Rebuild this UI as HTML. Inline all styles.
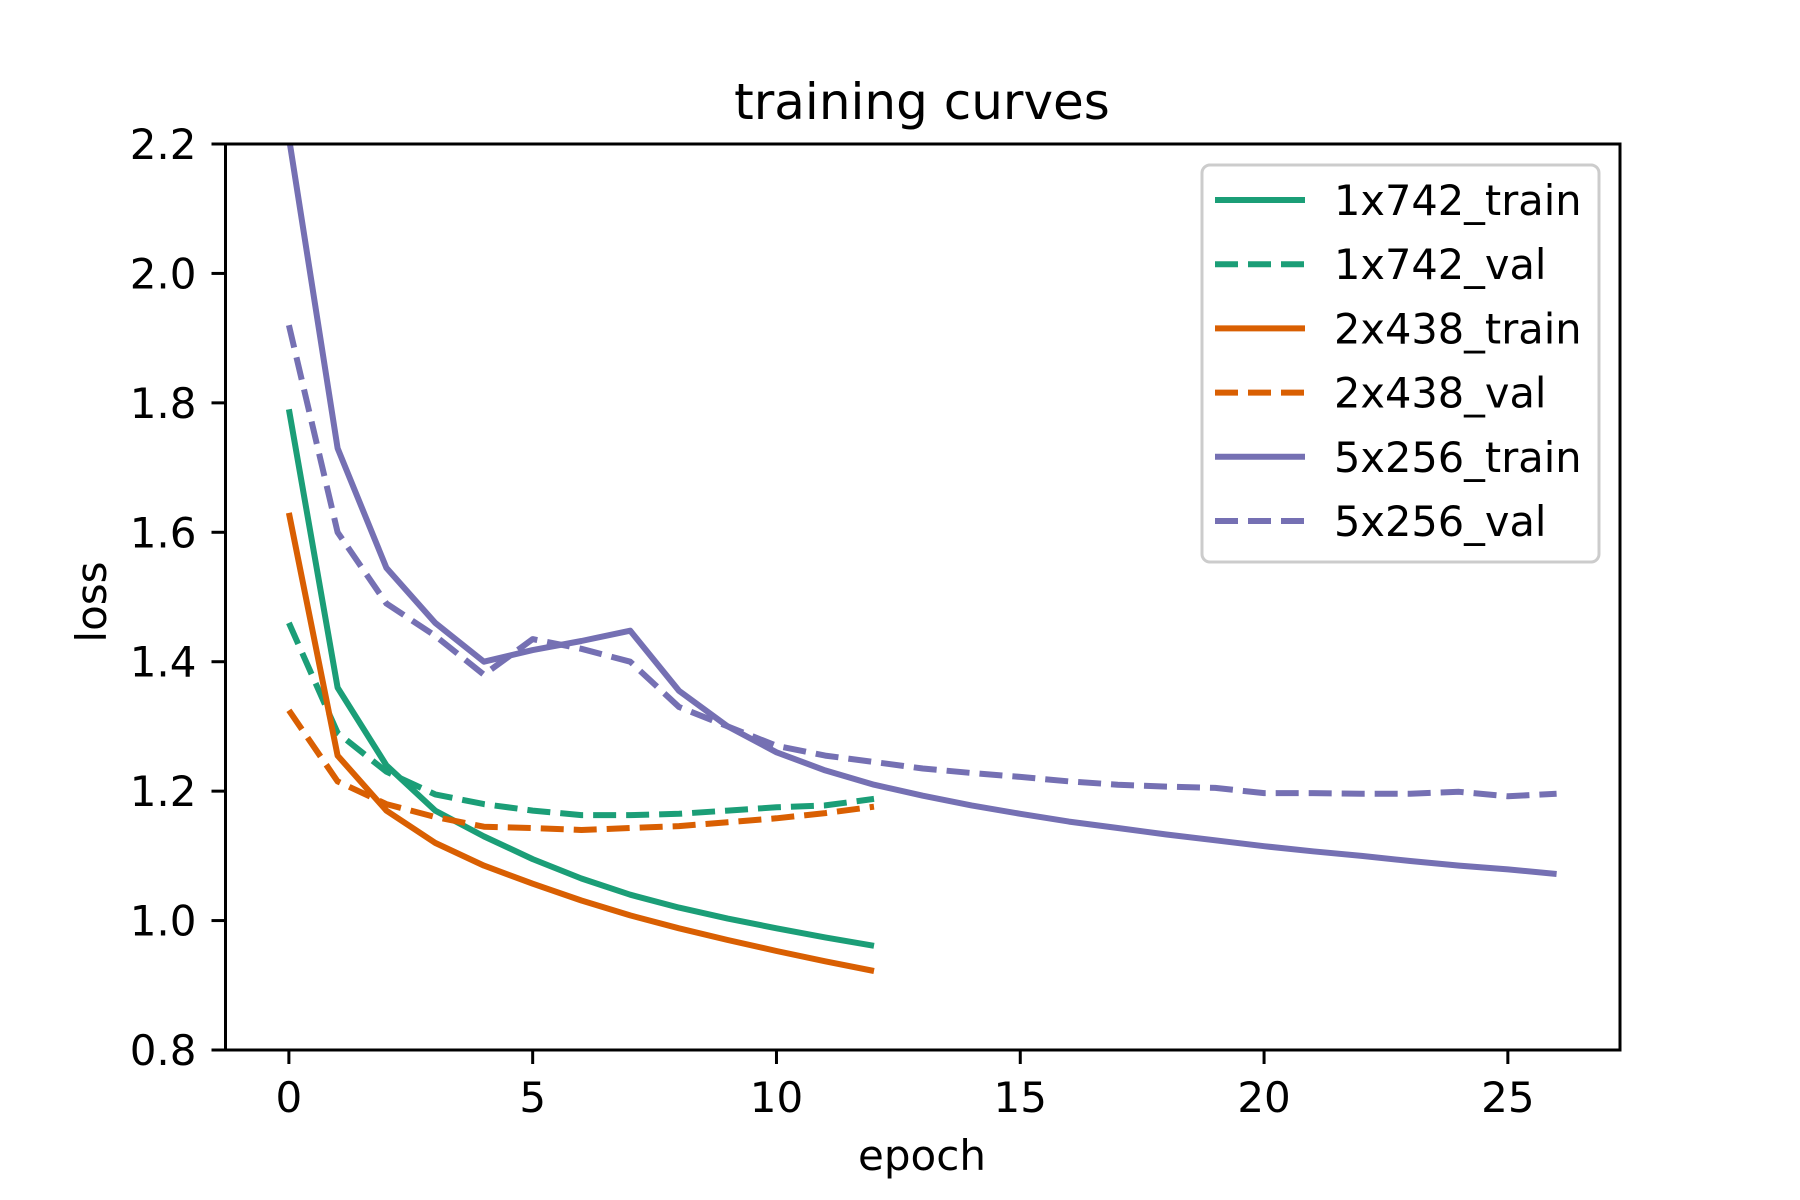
<!DOCTYPE html>
<html><head><meta charset="utf-8"><style>
html,body{margin:0;padding:0;background:#fff;}
svg{display:block;font-family:"DejaVu Sans","Liberation Sans",sans-serif;}
</style></head><body>
<svg id="chart" width="1800" height="1200" viewBox="0 0 1800 1200">
<rect width="1800" height="1200" fill="#fff"/>
<text x="922" y="119" font-size="50" text-anchor="middle">training curves</text>
<g id="plot"></g>
<text x="922" y="1170" font-size="42" text-anchor="middle">epoch</text>
<text x="0" y="0" font-size="42" text-anchor="middle" transform="translate(106,602) rotate(-90)">loss</text>
</svg>
<script>
const epochsShort = [0,1,2,3,4,5,6,7,8,9,10,11,12];
const epochsLong = [0,1,2,3,4,5,6,7,8,9,10,11,12,13,14,15,16,17,18,19,20,21,22,23,24,25,26];
const train1x742 = [1.79,1.36,1.24,1.17,1.13,1.095,1.065,1.04,1.02,1.003,0.988,0.974,0.961];
const val1x742 = [1.46,1.29,1.23,1.195,1.18,1.17,1.163,1.163,1.165,1.17,1.175,1.178,1.188];
const train2x438 = [1.63,1.255,1.17,1.12,1.085,1.057,1.031,1.008,0.988,0.97,0.953,0.937,0.922];
const val2x438 = [1.325,1.215,1.18,1.16,1.145,1.143,1.14,1.143,1.146,1.152,1.158,1.166,1.176];
const train5x256 = [2.21,1.73,1.545,1.46,1.40,1.418,1.432,1.448,1.355,1.30,1.26,1.232,1.21,1.193,1.178,1.165,1.153,1.143,1.133,1.124,1.115,1.107,1.1,1.092,1.085,1.079,1.072];
const val5x256 = [1.92,1.60,1.49,1.44,1.38,1.435,1.42,1.40,1.33,1.30,1.27,1.255,1.245,1.235,1.228,1.222,1.215,1.21,1.207,1.205,1.197,1.197,1.196,1.196,1.199,1.192,1.196];
const xTicks = [0,5,10,15,20,25];
const yTicks = [0.8,1.0,1.2,1.4,1.6,1.8,2.0,2.2];
const seriesNames = ["1x742_train","1x742_val","2x438_train","2x438_val","5x256_train","5x256_val"];

const L=225.5,R=1620,T=144,B=1050;
const xMin=-1.3,xMax=27.3,yMin=0.8,yMax=2.2;
function sx(v){return L+(v-xMin)/(xMax-xMin)*(R-L);}
function sy(v){return B-(v-yMin)/(yMax-yMin)*(B-T);}
const NS="http://www.w3.org/2000/svg";
const plot=document.getElementById('plot');
function mk(tag,attrs,parent){const e=document.createElementNS(NS,tag);for(const k in attrs)e.setAttribute(k,attrs[k]);(parent||plot).appendChild(e);return e;}

const clip=mk('clipPath',{id:'clip'});mk('rect',{x:L,y:T,width:R-L,height:B-T},clip);
const series=[
 {xs:epochsShort,ys:train1x742,c:'#1b9e77',d:false},
 {xs:epochsShort,ys:val1x742,c:'#1b9e77',d:true},
 {xs:epochsShort,ys:train2x438,c:'#d95f02',d:false},
 {xs:epochsShort,ys:val2x438,c:'#d95f02',d:true},
 {xs:epochsLong,ys:train5x256,c:'#7570b3',d:false},
 {xs:epochsLong,ys:val5x256,c:'#7570b3',d:true}
];
const lines=mk('g',{'clip-path':'url(#clip)'});
series.forEach((s,i)=>{
 const pts=s.xs.map((x,j)=>sx(x).toFixed(1)+','+sy(s.ys[j]).toFixed(1)).join(' ');
 const p=mk('polyline',{points:pts,fill:'none',stroke:s.c,'stroke-width':6,'stroke-linejoin':'round'},lines);
 if(s.d)p.setAttribute('stroke-dasharray','23 10');
 
 
});
xTicks.forEach(t=>{
 const x=sx(t);
 const ln=mk('line',{x1:x,x2:x,y1:B,y2:B+14,stroke:'#000','stroke-width':3});
 
 
 const tx=mk('text',{x:x,y:B+62,'font-size':42,'text-anchor':'middle'});tx.textContent=t;
 
 
});
yTicks.forEach(t=>{
 const y=sy(t);
 const ln=mk('line',{x1:L-14,x2:L,y1:y,y2:y,stroke:'#000','stroke-width':3});
 
 
 const tx=mk('text',{x:L-29,y:y+15,'font-size':42,'text-anchor':'end'});tx.textContent=t.toFixed(1);
 
 
});
const frame=mk('rect',{x:L,y:T,width:R-L,height:B-T,fill:'none',stroke:'#000','stroke-width':3});


const lg=mk('g',{});


mk('rect',{x:1202,y:165,width:397,height:397,rx:8,fill:'#fff','fill-opacity':0.8,stroke:'#ccc','stroke-width':3},lg);
series.forEach((s,i)=>{
 const y=200+i*64.2;
 const g=mk('g',{},lg);
 
 
 const l=mk('line',{x1:1215,x2:1305,y1:y,y2:y,stroke:s.c,'stroke-width':6},g);
 if(s.d)l.setAttribute('stroke-dasharray','23 10');
 const t=mk('text',{x:1334,y:y+15,'font-size':41.5},g);t.textContent=seriesNames[i];
});
</script>
</body></html>
